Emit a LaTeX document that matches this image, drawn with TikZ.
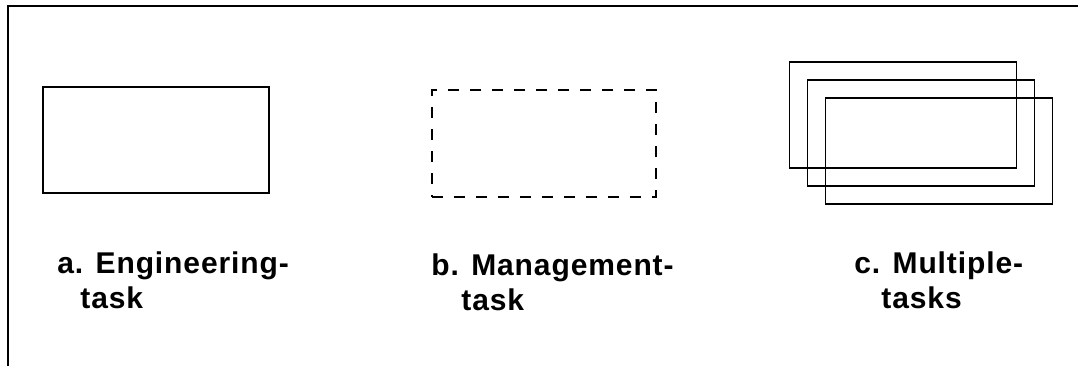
\documentclass[tikz,border=0pt]{standalone}
\usepackage{fontspec}
\setmainfont{Liberation Sans}
\newfontfamily\captionfont[LetterSpace=3]{Liberation Sans}

\begin{document}
\begin{tikzpicture}[x=0.5pt,y=-0.5pt,
  taskbox/.style={draw,line width=0.75pt,minimum width=113pt,minimum height=53pt,inner sep=0pt},
  caption/.style={anchor=north west,inner sep=0pt,align=left,font=\captionfont\bfseries\fontsize{15}{17.5}\selectfont}]
\useasboundingbox (0,0) rectangle (1078,366);
% outer frame, only its top and left edges are shown
\draw[line width=1pt] (8,366) |- (1078,6);

\node[taskbox] (eng_task) at (156,140) {};
\node[taskbox,dash pattern=on 5.5pt off 5.5pt,minimum width=112pt,minimum height=53.5pt] (mgmt_task) at (544,143.5) {};
\foreach \i in {0,1,2}
  \node[taskbox,minimum width=113.5pt] (multi_task\i) at (903+18*\i,115+18*\i) {};

\node[caption] (eng_cap) at (57,251) {a. Engineering-\\\hspace*{11.5pt}task};
\node[caption] (mgmt_cap) at (431,253) {b. Management-\\\hspace*{15pt}task};
\node[caption] (multi_cap) at (854,251) {c. Multiple-\\\hspace*{13.5pt}tasks};
\end{tikzpicture}
\end{document}
